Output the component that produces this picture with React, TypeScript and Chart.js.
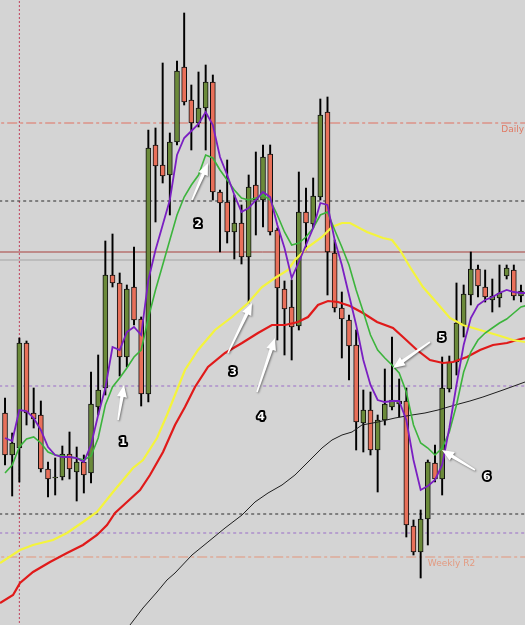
import React, { useEffect, useRef } from "react";
import { Chart, registerables } from "chart.js";

Chart.register(...registerables);

// ---- Candles (price units), one per bar index 0..72 ----
const opens = [
  212, 170, 177, 282, 212, 210, 156, 147, 148, 171,
  153, 163, 152, 218, 237, 350, 342, 268, 338, 306,
  231, 480, 460, 450, 483, 558, 525, 502, 517, 543,
  433, 423, 393, 402, 368, 440, 425, 471, 395, 336,
  318, 299, 413, 401, 428, 513, 372, 317, 305, 280,
  202, 215, 175, 205, 218, 221, 224, 99, 73, 106,
  162, 146, 236, 263, 300, 330, 356, 338, 325, 327,
  349, 355, 329,
];
const closes = [
  170, 182, 282, 212, 206, 156, 146, 148, 171, 156,
  163, 150, 221, 235, 350, 342, 268, 336, 305, 231,
  477, 459, 449, 483, 554, 523, 502, 517, 543, 433,
  422, 393, 402, 368, 438, 425, 468, 393, 337, 316,
  298, 413, 402, 429, 510, 373, 317, 306, 279, 203,
  215, 175, 205, 221, 225, 224, 100, 73, 106, 163,
  146, 237, 263, 302, 331, 356, 339, 328, 329, 332,
  357, 329, 334,
];
const highs = [
  227, 192, 287, 284, 237, 224, 163, 167, 179, 193,
  178, 170, 253, 270, 384, 391, 352, 340, 378, 308,
  495, 497, 562, 492, 564, 612, 540, 553, 560, 550,
  435, 465, 430, 420, 450, 473, 480, 480, 397, 344,
  345, 453, 437, 447, 526, 528, 385, 333, 310, 295,
  235, 233, 210, 256, 288, 246, 237, 105, 115, 165,
  180, 268, 269, 342, 340, 373, 360, 355, 346, 360,
  360, 360, 340,
];
const lows = [
  160, 129, 143, 200, 197, 153, 128, 130, 145, 146,
  124, 132, 142, 210, 230, 338, 249, 258, 300, 219,
  223, 403, 442, 410, 480, 520, 475, 498, 475, 425,
  373, 382, 366, 361, 322, 390, 398, 390, 285, 270,
  265, 295, 375, 397, 425, 330, 313, 267, 245, 175,
  173, 170, 133, 200, 215, 208, 88, 70, 47, 80,
  143, 130, 233, 250, 288, 320, 328, 323, 313, 318,
  346, 325, 323,
];

// ---- Moving averages ----
const fastMA = [
  187, 184, 215, 214, 207, 195, 178, 170, 168, 168,
  167, 163, 180, 210, 237, 278, 275, 293, 298, 290,
  345, 375, 400, 425, 470, 487, 494, 501, 513, 500,
  468, 450, 430, 413, 417, 425, 433, 428, 400, 377,
  347, 363, 380, 397, 422, 420, 385, 360, 330, 300,
  265, 240, 225, 223, 224, 224, 205, 165, 135, 139,
  145, 160, 197, 240, 280, 307, 320, 325, 328, 332,
  335, 333, 332, 332,
];
const midMA = [
  152, 160, 178, 186, 188, 182, 173, 170, 169, 168,
  167, 165, 169, 187, 220, 238, 247, 257, 268, 275,
  307, 335, 360, 385, 410, 428, 440, 450, 470, 467,
  455, 445, 435, 427, 425, 427, 430, 425, 410, 393,
  380, 382, 388, 397, 410, 413, 395, 378, 360, 335,
  313, 290, 275, 267, 260, 252, 233, 200, 182, 177,
  170, 177, 193, 220, 253, 273, 285, 292, 297, 302,
  306, 312, 318, 320,
];
const yellowAt = [
  -0.7, 2.09, 3.91, 6.7, 8.65, 10.88, 12.84, 15.07, 17.86, 19.25,
  21.21, 22.6, 23.72, 25.11, 26.93, 29.3, 31.67, 33.91, 35.86, 37.67,
  39.49, 40.46, 42.28, 44.23, 45.63, 47.02, 48.14, 50.51, 52.74, 54.0,
  55.11, 56.51, 58.32, 60.28, 62.09, 63.9, 66.28, 68.65, 70.88, 72.56,
];
const yellowMA = [
  62, 75, 80, 85, 92, 103, 113, 133, 157, 165,
  187, 210, 230, 255, 275, 295, 308, 322, 338, 347,
  355, 365, 378, 388, 398, 402, 402, 393, 387, 385,
  375, 358, 338, 322, 307, 300, 295, 290, 285, 283,
];
const redAt = [
  -0.7, 1.12, 2.09, 3.91, 6.28, 8.65, 10.88, 12.84, 14.23, 15.35,
  17.02, 18.84, 20.23, 22.05, 23.72, 25.11, 26.51, 28.32, 30.7, 33.07,
  35.3, 37.25, 39.07, 40.88, 42.28, 43.67, 45.07, 46.46, 48.14, 49.95,
  51.91, 54.14, 55.53, 57.49, 59.3, 61.11, 62.51, 64.46, 66.28, 68.09,
  70.04, 71.44, 72.56,
];
const redMA = [
  22, 30, 42, 53, 63, 72, 80, 90, 100, 112,
  123, 135, 150, 173, 200, 218, 238, 258, 272, 282,
  292, 300, 300, 303, 308, 320, 324, 323, 319, 312,
  303, 297, 288, 275, 265, 262, 263, 268, 275, 280,
  282, 285, 287,
];
const blackAt = [
  15.77, 17.44, 19.25, 21.21, 22.6, 23.72, 26.09, 28.32, 30.7, 33.07,
  34.88, 36.7, 38.65, 40.46, 42.28, 44.23, 45.63, 47.02, 48.42, 49.81,
  52.04, 54.42, 56.79, 58.6, 60.42, 62.79, 64.88, 66.69, 69.49, 72.56,
];
const blackMA = [
  -15, 0, 17, 33, 45, 52, 70, 83, 97, 110,
  123, 132, 140, 150, 163, 177, 185, 190, 193, 200,
  203, 207, 210, 212, 215, 220, 224, 228, 235, 243,
];

// ---- Horizontal levels and marker ----
const levelValues = [502, 424, 373, 365, 239, 111, 92, 68];
const dailyLevel = 502;
const weeklyR2Level = 68;
const weeklyLabelAt = 59.0;
const markerIndex = 2;

// ---- Annotations (data units) ----
const arrowFromX = [15.77, 26.09, 31.11, 35.16, 59.3, 65.58];
const arrowFromY = [205, 425, 272, 233, 283, 155];
const arrowToX = [16.6, 28.32, 34.46, 37.67, 54.14, 60.97];
const arrowToY = [240, 462, 322, 287, 257, 175];
const tagText = ["1", "2", "3", "4", "5", "6"];
const tagX = [16.46, 26.93, 31.81, 35.72, 60.97, 67.25];
const tagY = [183, 401, 253, 208, 287, 148];

// ---- Styles ----
const BG = "#d4d4d4";
const UP = "#6b8a3a";
const DOWN = "#e8705a";
const levelStyles = [
  { color: "#e07060", dash: [10, 3, 3, 3] },
  { color: "#2a2a2a", dash: [3, 3] },
  { color: "#a8403c", dash: [] },
  { color: "#a4a4a4", dash: [] },
  { color: "#9a6cc8", dash: [3, 3] },
  { color: "#2a2a2a", dash: [3, 3] },
  { color: "#9a6cc8", dash: [3, 3] },
  { color: "#e3957a", dash: [10, 3, 3, 3] },
];

function drawArrow(ctx: CanvasRenderingContext2D, x1: number, y1: number, x2: number, y2: number) {
  const ang = Math.atan2(y2 - y1, x2 - x1);
  const len = Math.hypot(x2 - x1, y2 - y1);
  const hl = 12, hw = 5;
  ctx.save();
  ctx.translate(x1, y1);
  ctx.rotate(ang);
  ctx.beginPath();
  ctx.moveTo(0, -0.8);
  ctx.lineTo(len - hl, -1.7);
  ctx.lineTo(len - hl, -hw);
  ctx.lineTo(len, 0);
  ctx.lineTo(len - hl, hw);
  ctx.lineTo(len - hl, 1.7);
  ctx.lineTo(0, 0.8);
  ctx.closePath();
  ctx.shadowColor = "rgba(0,0,0,0.45)";
  ctx.shadowBlur = 2;
  ctx.shadowOffsetX = 1;
  ctx.shadowOffsetY = 1;
  ctx.fillStyle = "#ffffff";
  ctx.fill();
  ctx.restore();
}

export default function App() {
  const ref = useRef<HTMLCanvasElement>(null);

  useEffect(() => {
    document.body.style.margin = "0";
    document.body.style.background = BG;
    const canvas = ref.current;
    if (!canvas) return;

    const bodyColors = opens.map((o, i) => (closes[i] >= o ? UP : DOWN));

    const levelSets = levelValues.map((v, k) => ({
      type: "line" as const,
      data: [{ x: -5, y: v }, { x: 80, y: v }],
      borderColor: levelStyles[k].color,
      borderDash: levelStyles[k].dash,
      borderWidth: 1,
      pointRadius: 0,
      fill: false,
      order: 20,
    }));

    const lineSet = (xs: number[], ys: number[], color: string, width: number, order: number) => ({
      type: "line" as const,
      data: ys.map((y, i) => ({ x: xs[i], y })),
      borderColor: color,
      borderWidth: width,
      pointRadius: 0,
      tension: 0,
      fill: false,
      order,
    });
    const indexXs = fastMA.map((_, i) => i);

    const annotPlugin = {
      id: "annot",
      beforeDraw(chart: any) {
        const c = chart.ctx;
        c.save();
        c.fillStyle = BG;
        c.fillRect(0, 0, chart.width, chart.height);
        c.restore();
      },
      afterDatasetsDraw(chart: any) {
        const c: CanvasRenderingContext2D = chart.ctx;
        const xs = chart.scales.x;
        const ys = chart.scales.y;
        c.save();
        c.font = '9px "DejaVu Sans"';
        c.textBaseline = "top";
        c.fillStyle = "#e07a64";
        c.textAlign = "right";
        c.fillText("Daily", chart.chartArea.right - 1, ys.getPixelForValue(dailyLevel) + 2);
        c.fillStyle = "#e39a80";
        c.textAlign = "left";
        c.fillText("Weekly R2", xs.getPixelForValue(weeklyLabelAt), ys.getPixelForValue(weeklyR2Level) + 2);
        for (let k = 0; k < arrowFromX.length; k++) {
          drawArrow(
            c,
            xs.getPixelForValue(arrowFromX[k]),
            ys.getPixelForValue(arrowFromY[k]),
            xs.getPixelForValue(arrowToX[k]),
            ys.getPixelForValue(arrowToY[k])
          );
        }
        c.font = 'bold 11px "DejaVu Sans"';
        c.textAlign = "center";
        c.textBaseline = "middle";
        c.lineJoin = "round";
        for (let k = 0; k < tagText.length; k++) {
          const px = xs.getPixelForValue(tagX[k]);
          const py = ys.getPixelForValue(tagY[k]);
          c.strokeStyle = "#000";
          c.lineWidth = 4;
          c.strokeText(tagText[k], px, py);
          c.fillStyle = "#fff";
          c.fillText(tagText[k], px, py);
        }
        c.restore();
      },
    };

    const chart = new Chart(canvas, {
      type: "bar",
      data: {
        datasets: [
          ...levelSets,
          {
            type: "line" as const,
            data: [{ x: markerIndex, y: -50 }, { x: markerIndex, y: 700 }],
            borderColor: "#c0405a",
            borderDash: [2, 2],
            borderWidth: 1,
            pointRadius: 0,
            fill: false,
            order: 20,
          },
          {
            type: "bar" as const,
            data: lows.map((l, i) => ({ x: i, y: [l, highs[i]] })),
            backgroundColor: "#000000",
            borderWidth: 0,
            barThickness: 1.3,
            grouped: false,
            order: 15,
          },
          {
            type: "bar" as const,
            data: opens.map((o, i) => ({ x: i, y: [o, closes[i]] })),
            backgroundColor: bodyColors,
            borderColor: "#111111",
            borderWidth: 1,
            borderSkipped: false,
            barThickness: 5,
            grouped: false,
            order: 14,
          },
          lineSet(blackAt, blackMA, "#1e1e1e", 1, 6),
          lineSet(redAt, redMA, "#e01a1a", 2.2, 5),
          lineSet(yellowAt, yellowMA, "#f4f43c", 2.2, 4),
          lineSet(indexXs, midMA, "#3cb43c", 1.6, 3),
          lineSet(indexXs, fastMA, "#7a1fc2", 1.8, 2),
        ] as any,
      },
      options: {
        animation: false,
        responsive: false,
        events: [],
        layout: { padding: 0 },
        plugins: { legend: { display: false }, tooltip: { enabled: false } },
        scales: {
          x: { type: "linear", min: -0.7, max: 72.56, display: false, offset: false, grid: { display: false } },
          y: { type: "linear", min: 0, max: 625, display: false, grid: { display: false } },
        },
      } as any,
      plugins: [annotPlugin],
    });

    return () => chart.destroy();
  }, []);

  return (
    <canvas ref={ref} width={525} height={625} style={{ display: "block", width: 525, height: 625 }} />
  );
}
